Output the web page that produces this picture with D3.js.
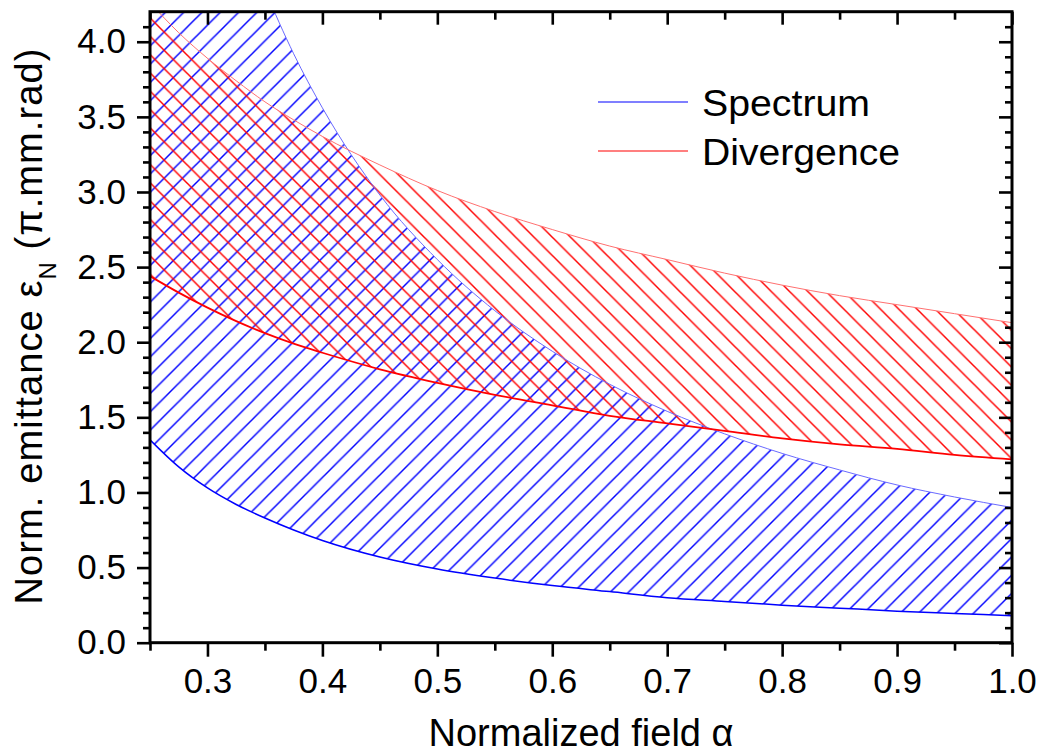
<!DOCTYPE html>
<html>
<head>
<meta charset="utf-8">
<script src="https://cdn.jsdelivr.net/npm/d3@7/dist/d3.min.js"></script>
<style>
  body { margin: 0; background: #fff; }
  text { font-family: "Liberation Sans", Arial, sans-serif; fill: #000; }
</style>
</head>
<body>
<div id="chart"></div>
<script>
const width = 1038;
const height = 754;

// data
const alpha = [0.25, 0.275, 0.3, 0.325, 0.35, 0.375, 0.4, 0.45, 0.5, 0.55, 0.6, 0.65, 0.7, 0.75, 0.8, 0.85, 0.9, 0.95, 1.0];
const spectrumHigh = [7.20, 6.24, 5.48, 4.86, 4.35, 3.92, 3.56, 2.98, 2.55, 2.21, 1.94, 1.72, 1.54, 1.39, 1.26, 1.15, 1.05, 0.97, 0.90];
const spectrumLow = [1.35, 1.17, 1.03, 0.92, 0.83, 0.75, 0.68, 0.57, 0.49, 0.43, 0.38, 0.34, 0.30, 0.275, 0.25, 0.23, 0.21, 0.195, 0.18];
const divergenceHigh = [4.26, 4.06, 3.89, 3.74, 3.60, 3.48, 3.37, 3.18, 3.01, 2.87, 2.75, 2.64, 2.55, 2.46, 2.38, 2.31, 2.25, 2.19, 2.13];
const divergenceLow = [2.44, 2.33, 2.23, 2.14, 2.06, 1.99, 1.93, 1.82, 1.73, 1.65, 1.58, 1.51, 1.46, 1.41, 1.36, 1.32, 1.29, 1.25, 1.22];

const legendNames = ["Spectrum", "Divergence"];
const xMajor = [0.3, 0.4, 0.5, 0.6, 0.7, 0.8, 0.9, 1.0];
const xMinor = [0.25, 0.35, 0.45, 0.55, 0.65, 0.75, 0.85, 0.95];
const yMajor = [0, 0.5, 1.0, 1.5, 2.0, 2.5, 3.0, 3.5, 4.0];
const yMinor = d3.range(0, 42).map(i => i / 10).filter(v => Math.round(v * 10) % 5 !== 0);

const x = d3.scaleLinear().domain([0.25, 1.0]).range([150, 1012]);
const y = d3.scaleLinear().domain([0, 4.2]).range([642.7, 11.7]);

const svg = d3.select("#chart")
  .append("svg")
  .attr("width", width)
  .attr("height", height);

const defs = svg.append("defs");

defs.append("clipPath").attr("id", "plot")
  .append("rect")
  .attr("x", x(0.25)).attr("y", y(4.2))
  .attr("width", x(1) - x(0.25)).attr("height", y(0) - y(4.2));

// hatch patterns
const s = 18.3;
function hatch(id, color, up, off) {
  const p = defs.append("pattern")
    .attr("id", id)
    .attr("patternUnits", "userSpaceOnUse")
    .attr("x", off).attr("y", 0)
    .attr("width", s).attr("height", s);
  const d = up
    ? `M-2,2 L2,-2 M0,${s} L${s},0 M${s - 2},${s + 2} L${s + 2},${s - 2}`
    : `M-2,${s - 2} L2,${s + 2} M0,0 L${s},${s} M${s - 2},-2 L${s + 2},2`;
  p.append("path").attr("d", d)
    .attr("stroke", color).attr("stroke-width", 1.45).attr("fill", "none");
}
hatch("blueHatch", "#0000ff", true, 13);
hatch("redHatch", "#ff0000", false, 4);

const spectrum = alpha.map((a, i) => ({ a, lo: spectrumLow[i], hi: spectrumHigh[i] }));
const divergence = alpha.map((a, i) => ({ a, lo: divergenceLow[i], hi: divergenceHigh[i] }));

const area = d3.area()
  .x(d => x(d.a))
  .y0(d => y(d.lo))
  .y1(d => y(d.hi))
  .curve(d3.curveMonotoneX);

const lineLo = d3.line().x(d => x(d.a)).y(d => y(d.lo)).curve(d3.curveMonotoneX);
const lineHi = d3.line().x(d => x(d.a)).y(d => y(d.hi)).curve(d3.curveMonotoneX);

const plot = svg.append("g").attr("clip-path", "url(#plot)");

plot.append("path").datum(spectrum)
  .attr("d", area).attr("fill", "url(#blueHatch)");
plot.append("path").datum(divergence)
  .attr("d", area).attr("fill", "url(#redHatch)");

plot.append("path").datum(spectrum).attr("d", lineHi)
  .attr("fill", "none").attr("stroke", "#6a6aff").attr("stroke-width", 1);
plot.append("path").datum(spectrum).attr("d", lineLo)
  .attr("fill", "none").attr("stroke", "#0000ff").attr("stroke-width", 1.5);
plot.append("path").datum(divergence).attr("d", lineHi)
  .attr("fill", "none").attr("stroke", "#ff7070").attr("stroke-width", 1);
plot.append("path").datum(divergence).attr("d", lineLo)
  .attr("fill", "none").attr("stroke", "#ff0000").attr("stroke-width", 1.8);

// axes
function styleAxis(g) {
  g.select(".domain").remove();
  g.selectAll("line").attr("stroke", "#000").attr("stroke-width", 2.6);
  g.selectAll("text").style("font-size", "35px").attr("fill", "#000");
}

svg.append("g").attr("transform", `translate(0,${y(0)})`)
  .call(d3.axisBottom(x).tickValues(xMajor).tickSize(14).tickPadding(11).tickFormat(d3.format(".1f")))
  .call(styleAxis);
svg.append("g").attr("transform", `translate(0,${y(0)})`)
  .call(d3.axisBottom(x).tickValues(xMinor).tickSize(8).tickFormat(""))
  .call(styleAxis);
svg.append("g").attr("transform", `translate(0,${y(4.2)})`)
  .call(d3.axisBottom(x).tickValues(xMajor).tickSize(13).tickFormat(""))
  .call(styleAxis);
svg.append("g").attr("transform", `translate(0,${y(4.2)})`)
  .call(d3.axisBottom(x).tickValues(xMinor).tickSize(8).tickFormat(""))
  .call(styleAxis);

svg.append("g").attr("transform", `translate(${x(0.25)},0)`)
  .call(d3.axisLeft(y).tickValues(yMajor).tickSize(13).tickPadding(11).tickFormat(d3.format(".1f")))
  .call(styleAxis);
svg.append("g").attr("transform", `translate(${x(0.25)},0)`)
  .call(d3.axisLeft(y).tickValues(yMinor).tickSize(7).tickFormat(""))
  .call(styleAxis);
svg.append("g").attr("transform", `translate(${x(1)},0)`)
  .call(d3.axisLeft(y).tickValues(yMajor).tickSize(13).tickFormat(""))
  .call(styleAxis);
svg.append("g").attr("transform", `translate(${x(1)},0)`)
  .call(d3.axisLeft(y).tickValues(yMinor).tickSize(7).tickFormat(""))
  .call(styleAxis);

// frame
svg.append("rect")
  .attr("x", x(0.25)).attr("y", y(4.2))
  .attr("width", x(1) - x(0.25)).attr("height", y(0) - y(4.2))
  .attr("fill", "none").attr("stroke", "#000").attr("stroke-width", 3);

// axis titles
svg.append("text")
  .attr("x", (x(0.25) + x(1)) / 2).attr("y", 746)
  .attr("text-anchor", "middle")
  .style("font-size", "38px")
  .text("Normalized field α");

const yt = svg.append("text")
  .attr("transform", "translate(42,326) rotate(-90)")
  .attr("text-anchor", "middle")
  .style("font-size", "38px")
  .style("letter-spacing", "1.1px");
yt.append("tspan").text("Norm. emittance ε");
yt.append("tspan").attr("dy", 14).style("font-size", "24px").text("N");
yt.append("tspan").attr("dy", -14).text(" (π.mm.rad)");

// legend
const legendColors = ["#0000ff", "#ff0000"];
const legendWidths = [168, 198];
const legend = svg.append("g").attr("transform", "translate(598,102)");
legendNames.forEach((name, i) => {
  legend.append("line")
    .attr("x1", 0).attr("x2", 90)
    .attr("y1", i * 49).attr("y2", i * 49)
    .attr("stroke", legendColors[i]).attr("stroke-width", 1.2);
  legend.append("text")
    .attr("x", 104).attr("y", i * 49 + 14)
    .attr("textLength", legendWidths[i])
    .attr("lengthAdjust", "spacingAndGlyphs")
    .style("font-size", "36px")
    .text(name);
});
</script>
</body>
</html>
